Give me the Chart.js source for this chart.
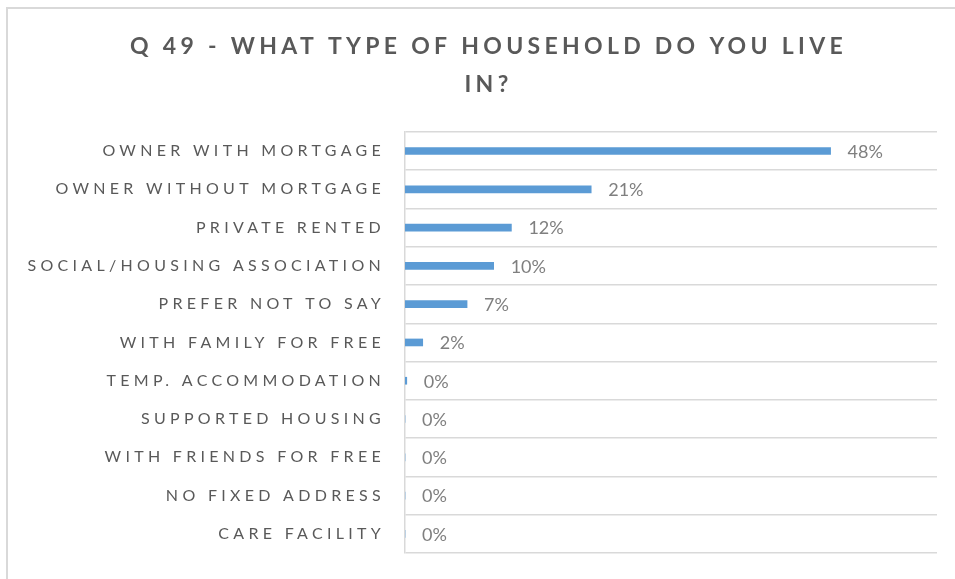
<!DOCTYPE html>
<html>
<head>
<meta charset="utf-8">
<script src="https://cdn.jsdelivr.net/npm/chart.js@4"></script>
<style>
    html, body { margin: 0; padding: 0; background: #fff; }
    #wrap { position: relative; width: 955px; height: 579px; overflow: hidden; }
    #frame {
        position: absolute; left: 6px; top: 7px; right: 0; bottom: 0;
        border-left: 2px solid #d9d9d9; border-top: 2px solid #d9d9d9;
    }
    #householdChart { position: absolute; left: 0; top: 0; }
</style>
</head>
<body>
<div id="wrap">
    <div id="frame"></div>
    <canvas id="householdChart" width="955" height="579"></canvas>
</div>
<script>
const categories = [
    'OWNER WITH MORTGAGE',
    'OWNER WITHOUT MORTGAGE',
    'PRIVATE RENTED',
    'SOCIAL/HOUSING ASSOCIATION',
    'PREFER NOT TO SAY',
    'WITH FAMILY FOR FREE',
    'TEMP. ACCOMMODATION',
    'SUPPORTED HOUSING',
    'WITH FRIENDS FOR FREE',
    'NO FIXED ADDRESS',
    'CARE FACILITY'
];
// percent of respondents
const shares = [48, 21, 12, 10, 7, 2, 0.2, 0, 0, 0, 0];
const titleLines = ['Q 49 - WHAT TYPE OF HOUSEHOLD DO YOU LIVE', 'IN?'];

const TITLE_SPACING = '4.3px';
const LABEL_SPACING = '4.7px';
const PLOT_LEFT = 405;

// letterSpacing only sticks once ctx.font is assigned again, so bounce the font
function setSpacing(ctx, value) {
    ctx.letterSpacing = value;
    ctx.font = '10px serif';
}

const spacingPlugin = {
    id: 'spacing',
    // nudge the title block right so it centres over the framed area
    afterLayout(chart) {
        if (chart.titleBlock) chart.titleBlock.left += 40;
    },
    // canvas letter spacing: title before datasets, axis labels after them
    beforeDraw(chart) {
        setSpacing(chart.ctx, TITLE_SPACING);
    },
    afterDatasetsDraw(chart) {
        const ctx = chart.ctx;
        const meta = chart.getDatasetMeta(0);
        ctx.save();
        setSpacing(ctx, '0px');
        ctx.font = '18px Lato';
        ctx.fillStyle = '#7f7f7f';
        ctx.textAlign = 'left';
        ctx.textBaseline = 'middle';
        meta.data.forEach((bar, i) => {
            const v = chart.data.datasets[0].data[i];
            ctx.fillText(Math.round(v) + '%', bar.x + 17, bar.y + 1);
        });
        ctx.restore();
        setSpacing(ctx, LABEL_SPACING);
    },
    afterDraw(chart) {
        setSpacing(chart.ctx, '0px');
    }
};

new Chart(document.getElementById('householdChart'), {
    type: 'bar',
    data: {
        labels: categories,
        datasets: [{
            data: shares,
            backgroundColor: '#5b9bd5',
            borderWidth: 0,
            barThickness: 7
        }]
    },
    options: {
        indexAxis: 'y',
        responsive: false,
        animation: false,
        devicePixelRatio: 1,
        layout: {
            padding: { top: 10, right: 18, bottom: 26, left: 0 }
        },
        plugins: {
            legend: { display: false },
            tooltip: { enabled: false },
            title: {
                display: true,
                text: titleLines,
                color: '#595959',
                font: { family: 'Lato', size: 23, weight: 'bold', lineHeight: 1.65 },
                padding: { top: 18, bottom: 28 }
            }
        },
        scales: {
            x: {
                display: false,
                min: 0,
                max: 60
            },
            y: {
                z: 1,
                afterFit(scale) {
                    scale.width = PLOT_LEFT;
                    scale.paddingTop = 0;
                    scale.paddingBottom = 0;
                },
                grid: {
                    color: '#d9d9d9',
                    lineWidth: 1.5,
                    drawTicks: false
                },
                border: { color: '#d9d9d9', width: 1.5 },
                ticks: {
                    color: '#595959',
                    font: { family: 'Lato', size: 16 },
                    padding: 20,
                    autoSkip: false
                }
            }
        }
    },
    plugins: [spacingPlugin]
});
</script>
</body>
</html>
